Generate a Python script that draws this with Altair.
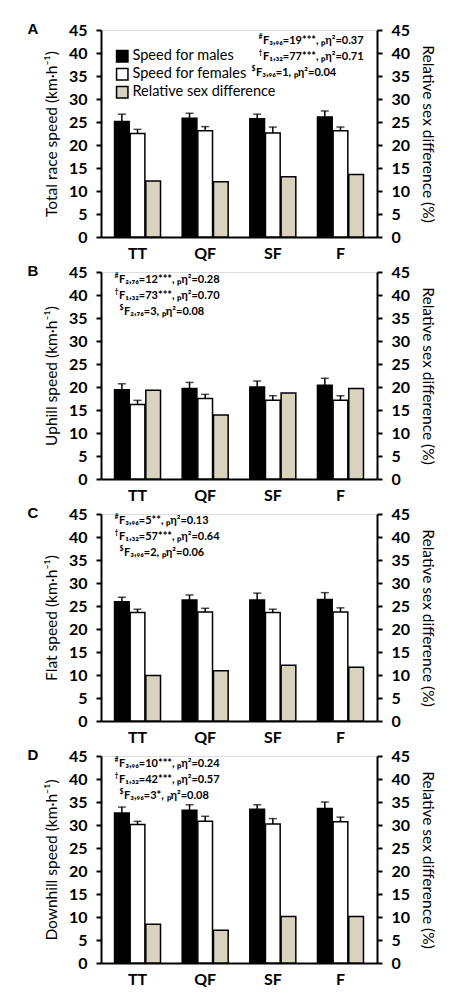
import altair as alt
import pandas as pd

cats = ["TT", "QF", "SF", "F"]
series_names = ["Speed for males", "Speed for females", "Relative sex difference"]
colors = ["#000000", "#ffffff", "#d8d3bf"]

# Panel A - total race speed
A_males = [25.1, 25.8, 25.7, 26.1]
A_males_err = [1.6, 1.1, 1.0, 1.3]
A_females = [22.5, 23.1, 22.6, 23.1]
A_females_err = [0.9, 0.9, 1.3, 0.8]
A_diff = [12.2, 12.0, 13.1, 13.6]

# Panel B - uphill speed
B_males = [19.4, 19.7, 20.0, 20.4]
B_males_err = [1.3, 1.3, 1.3, 1.5]
B_females = [16.2, 17.5, 17.1, 17.1]
B_females_err = [0.9, 0.9, 1.0, 1.0]
B_diff = [19.3, 13.9, 18.7, 19.7]

# Panel C - flat speed
C_males = [25.9, 26.3, 26.3, 26.4]
C_males_err = [1.0, 1.1, 1.5, 1.5]
C_females = [23.6, 23.7, 23.6, 23.7]
C_females_err = [0.7, 0.8, 0.7, 0.9]
C_diff = [9.9, 10.9, 12.1, 11.7]

# Panel D - downhill speed
D_males = [32.6, 33.2, 33.4, 33.6]
D_males_err = [1.3, 1.2, 1.0, 1.4]
D_females = [30.1, 30.8, 30.2, 30.7]
D_females_err = [0.7, 1.1, 1.2, 1.0]
D_diff = [8.4, 7.1, 10.1, 10.1]

titles = ["Total race speed (km·h⁻¹)", "Uphill speed (km·h⁻¹)",
          "Flat speed (km·h⁻¹)", "Downhill speed (km·h⁻¹)"]
right_title = "Relative sex difference (%)"
letters = ["A", "B", "C", "D"]
markers = ["#", "†", "$"]
stats = [
    ["F₃,₉₆=19***, ₚη²=0.37", "F₁,₃₂=77***, ₚη²=0.71", "F₃,₉₆=1, ₚη²=0.04"],
    ["F₂,₇₆=12***, ₚη²=0.28", "F₁,₃₂=73***, ₚη²=0.70", "F₂,₇₆=3, ₚη²=0.08"],
    ["F₃,₉₆=5**, ₚη²=0.13", "F₁,₃₂=57***, ₚη²=0.64", "F₃,₉₆=2, ₚη²=0.06"],
    ["F₃,₉₆=10***, ₚη²=0.24", "F₁,₃₂=42***, ₚη²=0.57", "F₃,₉₆=3*, ₚη²=0.08"],
]
# text layout (pixel offsets inside each plot)
stats_x = [[162, 162, 155], [18, 18, 23], [18, 18, 23], [18, 18, 23]]
stats_y = [11, 8, 7, 8]
LINE = 16

all_data = [
    (A_males, A_males_err, A_females, A_females_err, A_diff),
    (B_males, B_males_err, B_females, B_females_err, B_diff),
    (C_males, C_males_err, C_females, C_females_err, C_diff),
    (D_males, D_males_err, D_females, D_females_err, D_diff),
]

W, H = 276, 207
FONT = "Lato"


def make_panel(k):
    m, me, f, fe, d = all_data[k]
    rows = []
    for i, c in enumerate(cats):
        rows.append(dict(cat=c, series=series_names[0], value=m[i], top=m[i] + me[i]))
        rows.append(dict(cat=c, series=series_names[1], value=f[i], top=f[i] + fe[i]))
        rows.append(dict(cat=c, series=series_names[2], value=d[i], top=d[i]))
    df = pd.DataFrame(rows)
    base = alt.Chart(df)

    x = alt.X("cat:N", sort=cats,
              scale=alt.Scale(paddingInner=0.32, paddingOuter=0.2),
              axis=alt.Axis(title=None, labelAngle=0, ticks=False, labelFontSize=16,
                            labelFontWeight="bold", labelPadding=8, domainWidth=2,
                            domainColor="black", labelColor="black", labelFont=FONT))
    xo = alt.XOffset("series:N", sort=series_names,
                     scale=alt.Scale(domain=series_names, paddingInner=0.06))
    ysc = alt.Scale(domain=[0, 45], nice=False)
    common = dict(values=list(range(0, 46, 5)), grid=False, domainWidth=2,
                  domainColor="black", tickColor="black", tickWidth=2, tickSize=5,
                  labelFontSize=16, labelFontWeight="bold", labelFont=FONT,
                  labelColor="black", titleFont=FONT, titleFontSize=15.5,
                  titleFontWeight="normal", titleColor="black", titleLimit=400)
    left_axis = alt.Axis(title=titles[k], orient="left", titlePadding=9,
                         labelPadding=9, **common)
    right_axis = alt.Axis(title=right_title, orient="right",
                          titlePadding=10, labelPadding=9, **common)

    if k == 0:
        legend = alt.Legend(title=None, orient="none", legendX=14, legendY=19,
                            symbolType="square", symbolSize=130,
                            symbolStrokeColor="black", symbolStrokeWidth=1.5,
                            labelFont=FONT, labelFontSize=14.5, labelColor="black",
                            rowPadding=0, labelOffset=3, labelLimit=300)
    else:
        legend = None
    fill = alt.Fill("series:N", scale=alt.Scale(domain=series_names, range=colors),
                    legend=legend)

    sexes = alt.datum.series != series_names[2]
    bars = base.transform_filter(sexes).mark_bar(stroke="black", strokeWidth=1.5).encode(
        x=x, xOffset=xo, y=alt.Y("value:Q", scale=ysc, axis=left_axis), fill=fill)
    rule = base.transform_filter(sexes).mark_rule(color="black", strokeWidth=1.5).encode(
        x=x, xOffset=xo, y=alt.Y("value:Q", scale=ysc, axis=left_axis), y2="top:Q")
    cap = base.transform_filter(sexes).mark_tick(
        color="black", thickness=1.5, size=8, orient="horizontal").encode(
        x=x, xOffset=xo, y=alt.Y("top:Q", scale=ysc, axis=left_axis))
    left = alt.layer(bars, rule, cap)

    diff = base.transform_filter(alt.datum.series == series_names[2]).mark_bar(
        stroke="black", strokeWidth=1.5).encode(
        x=x, xOffset=xo, y=alt.Y("value:Q", scale=ysc, axis=right_axis), fill=fill)

    letter = alt.Chart(pd.DataFrame({"t": [letters[k]]})).mark_text(
        font="Liberation Sans", fontSize=15, fontWeight="bold", align="center",
        baseline="middle", color="black").encode(
        text="t:N", x=alt.value(-68), y=alt.value(-1))

    texts = []
    for j in range(3):
        tx = stats_x[k][j]
        ty = stats_y[k] + LINE * j
        texts.append(alt.Chart(pd.DataFrame({"t": [stats[k][j]]})).mark_text(
            font=FONT, fontSize=11, fontWeight="bold", align="left",
            baseline="middle", color="black").encode(
            text="t:N", x=alt.value(tx), y=alt.value(ty)))
        texts.append(alt.Chart(pd.DataFrame({"t": [markers[j]]})).mark_text(
            font=FONT, fontSize=7, fontWeight="bold", align="right",
            baseline="middle", color="black").encode(
            text="t:N", x=alt.value(tx - 0.5), y=alt.value(ty - 4)))

    return alt.layer(left, diff, letter, *texts).resolve_scale(y="independent").properties(
        width=W, height=H)


chart = alt.vconcat(*[make_panel(k) for k in range(4)], spacing=35, bounds="flush").resolve_scale(
    fill="independent").resolve_legend(fill="independent").properties(
    padding={"left": 19, "top": 13, "right": 8, "bottom": 0}).configure_view(
    stroke="transparent").configure(background="white")

chart.save("out.html", embed_options={"renderer": "svg", "actions": False})
